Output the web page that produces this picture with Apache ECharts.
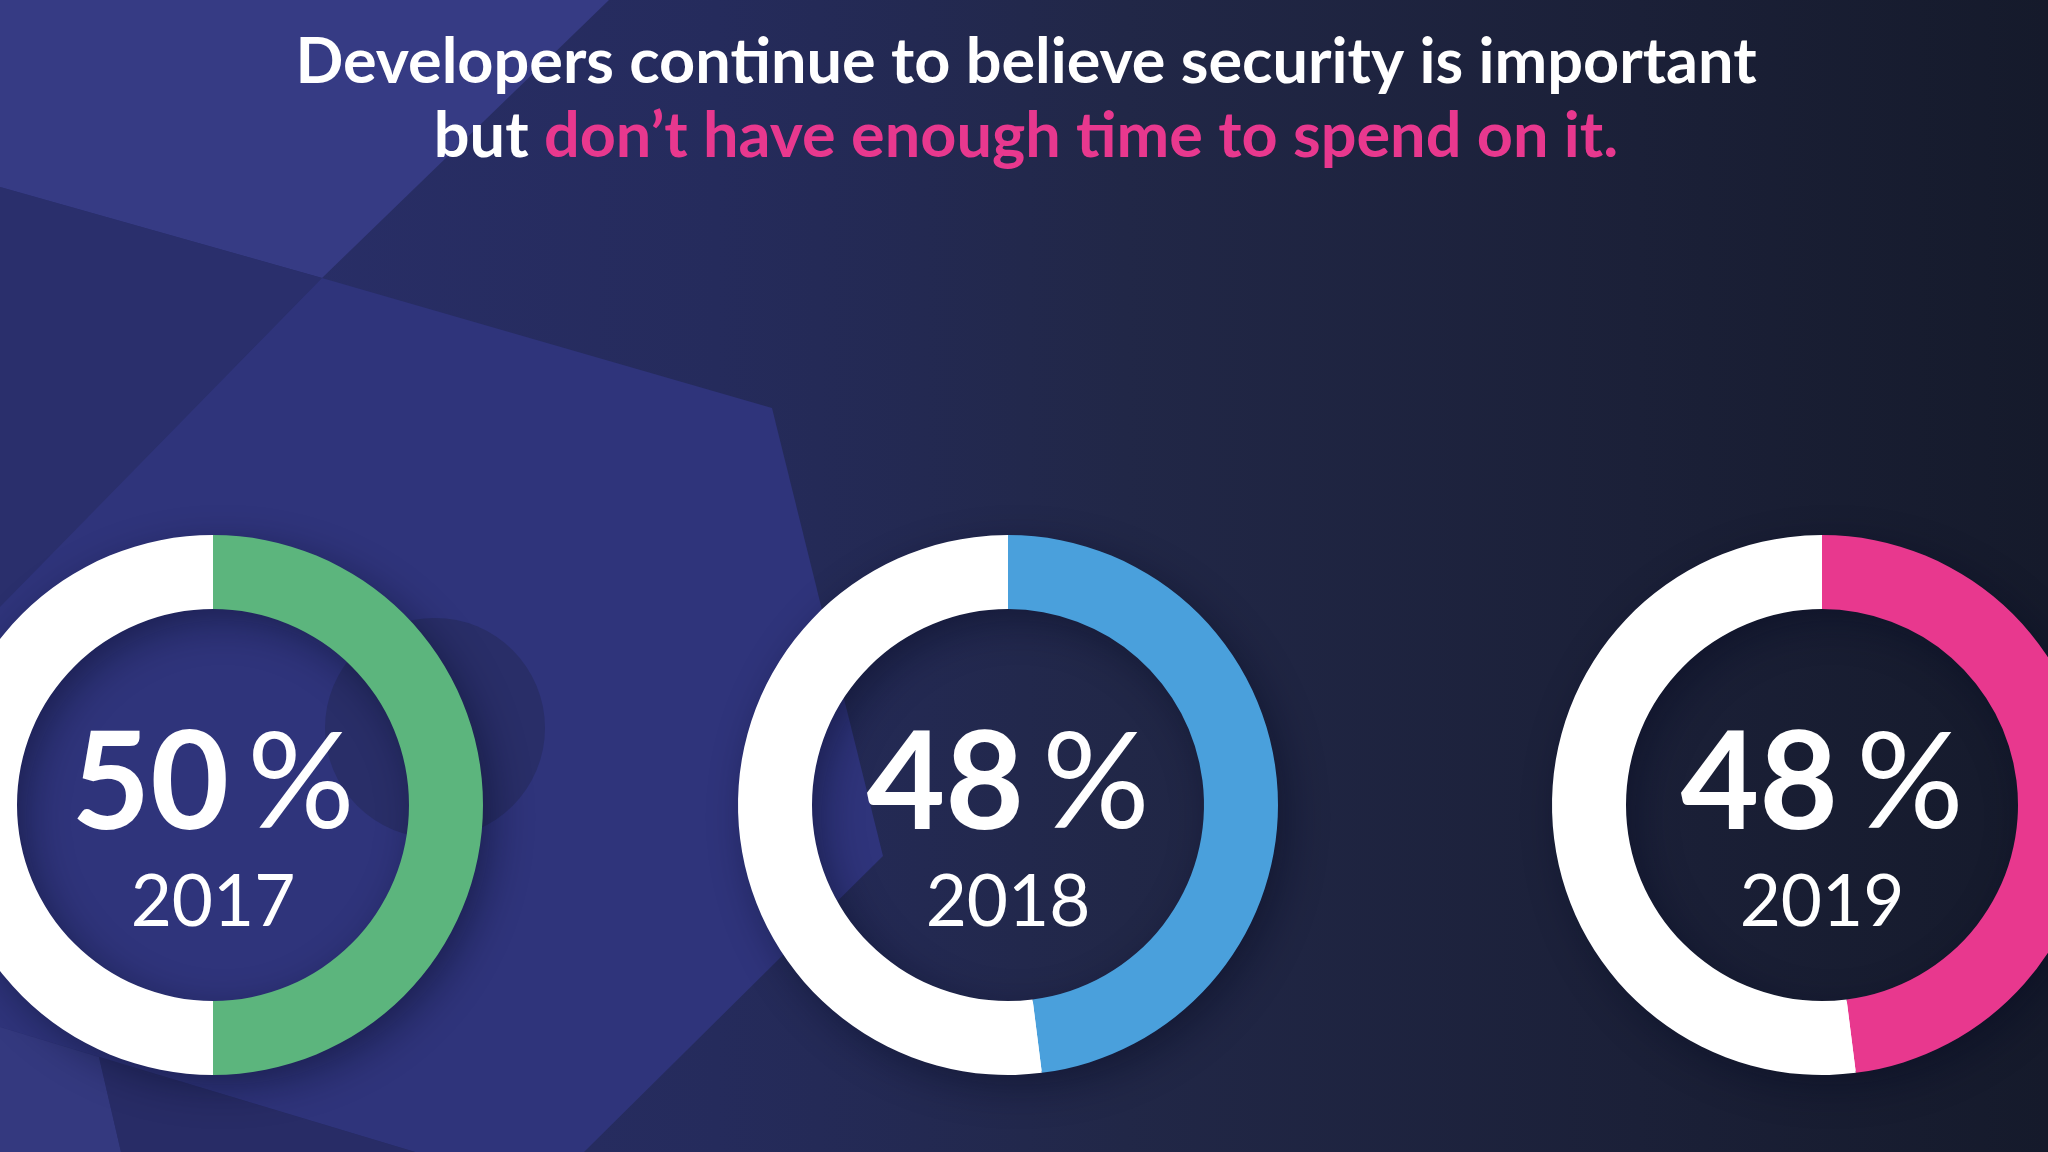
<!DOCTYPE html>
<html>
<head>
<meta charset="utf-8">
<title>Developers and security time</title>
<script src="https://cdn.jsdelivr.net/npm/echarts@6/dist/echarts.min.js"></script>
<style>
  html, body { margin: 0; padding: 0; background: #1c2140; }
  #chartContainer { width: 2048px; height: 1152px; }
</style>
</head>
<body>
<div id="chartContainer"></div>
<script>
// data
const years = ['2017', '2018', '2019'];
const shares = [50, 48, 48];        // % without enough time
const remainder = [50, 52, 52];     // white part of each ring
const titleLine1 = 'Developers continue to believe security is important';
const titleLead = 'but ';
const titleAccent = 'don’t have enough time to spend on it.';

// ring layout
const ringCenters = [[213, 805], [1008, 805], [1822, 805]];
const ringColors = ['#5cb57d', '#4aa0dc', '#e8388e'];
const R_IN = 196, R_OUT = 270;
const FONT = 'Lato, "Open Sans", sans-serif';

function initChart() {
  const chartContainer = document.getElementById('chartContainer');
  const chart = echarts.init(chartContainer, null, { renderer: 'canvas' });

  // background shapes (decoration only)
  const bgShapes = [
    { pts: [[0, 0], [609, 0], [322, 278], [0, 187]], color: '#363b84' },
    { pts: [[0, 187], [322, 278], [0, 607]], color: '#2a2f6c' },
    { pts: [[322, 278], [772, 408], [883, 856], [584, 1152], [415, 1152], [0, 1027], [0, 607]], color: '#2f347b' },
    { pts: [[0, 1027], [99, 1057], [121, 1152], [0, 1152]], color: '#34397f' },
    { pts: [[99, 1057], [415, 1152], [121, 1152]], color: '#282c66' }
  ];
  const graphic = bgShapes.map(s => ({
    type: 'polygon', silent: true, z: -10,
    shape: { points: s.pts },
    style: { fill: s.color }
  }));
  graphic.push({
    type: 'circle', silent: true, z: -9,
    shape: { cx: 435, cy: 728, r: 110 },
    style: { fill: '#292e68' }
  });
  // soft drop shadow under each ring
  ringCenters.forEach(c => {
    graphic.push({
      type: 'ring', silent: true, z: -5,
      shape: { cx: c[0], cy: c[1], r: R_OUT - 2, r0: R_IN + 2 },
      style: {
        fill: '#ffffff',
        shadowBlur: 40, shadowColor: 'rgba(5,8,30,0.45)',
        shadowOffsetX: 10, shadowOffsetY: 12
      }
    });
  });
  // headline, two lines centred
  graphic.push({
    type: 'text', silent: true, z: 10,
    x: 1026, y: 26,
    style: {
      text: '{w|' + titleLine1 + '}\n{w|' + titleLead + '}{p|' + titleAccent + '}',
      align: 'center',
      verticalAlign: 'top',
      rich: {
        w: { fontFamily: FONT, fontSize: 63, fontWeight: 'bold', fill: '#ffffff', lineHeight: 74 },
        p: { fontFamily: FONT, fontSize: 63, fontWeight: 'bold', fill: '#e8388e', lineHeight: 74 }
      }
    }
  });

  const series = years.map((y, i) => ({
    type: 'pie',
    name: y,
    center: ringCenters[i],
    radius: [R_IN, R_OUT],
    startAngle: 90,
    clockwise: true,
    silent: true,
    avoidLabelOverlap: false,
    label: { show: false },
    labelLine: { show: false },
    emphasis: { disabled: true },
    itemStyle: { borderWidth: 0 },
    data: [
      {
        value: shares[i], name: y,
        itemStyle: { color: ringColors[i] },
        label: {
          show: true,
          position: 'center',
          formatter: '{v|' + shares[i] + '}{p|%}\n{y|' + y + '}',
          rich: {
            v: { fontFamily: FONT, fontSize: 136, fontWeight: 'bold', color: '#ffffff', lineHeight: 196 },
            p: { fontFamily: FONT, fontSize: 134, fontWeight: 'normal', color: '#ffffff', lineHeight: 196, padding: [0, 0, 0, 18] },
            y: { fontFamily: FONT, fontSize: 71, fontWeight: 'normal', color: '#ffffff', lineHeight: 40 }
          }
        }
      },
      { value: remainder[i], name: 'rest', itemStyle: { color: '#ffffff' } }
    ]
  }));

  chart.setOption({
    animation: false,
    backgroundColor: {
      type: 'linear', x: 0, y: 0, x2: 1, y2: 0,
      colorStops: [
        { offset: 0, color: '#2b306e' },
        { offset: 0.35, color: '#252b5c' },
        { offset: 0.55, color: '#212747' },
        { offset: 0.8, color: '#1b2038' },
        { offset: 1, color: '#151a2b' }
      ]
    },
    graphic: graphic,
    series: series
  });
  return chart;
}

initChart();
</script>
</body>
</html>
